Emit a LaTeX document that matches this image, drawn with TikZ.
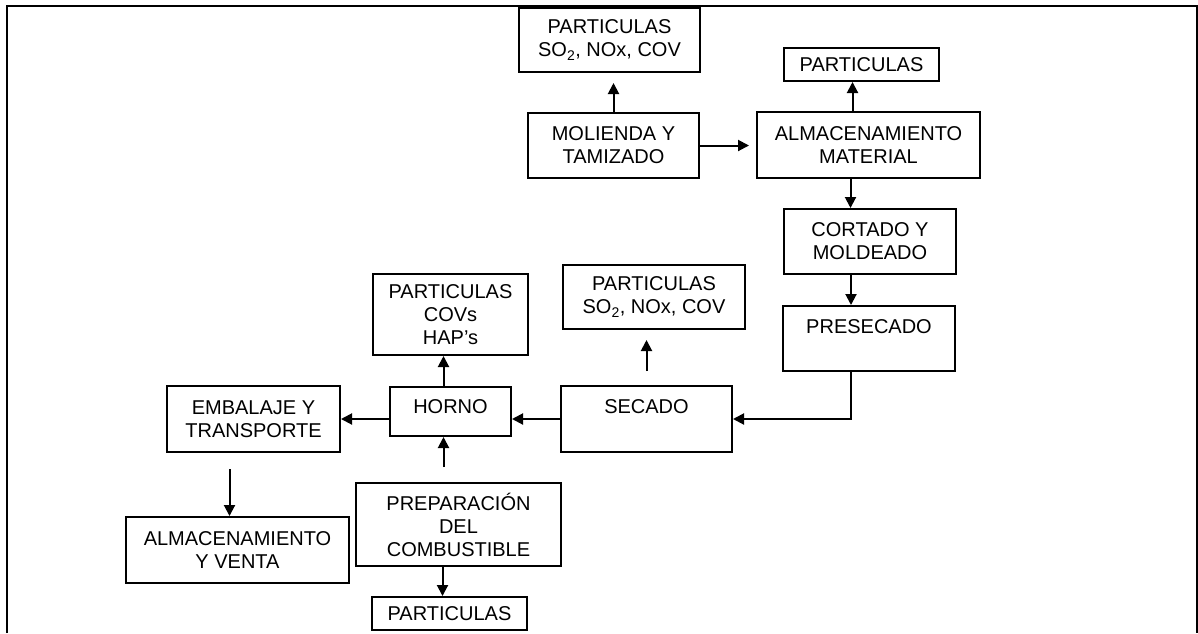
\documentclass[tikz,border=0pt]{standalone}
\usepackage{fontspec}
\setmainfont{Liberation Sans}
\usetikzlibrary{arrows.meta}

\begin{document}
\begin{tikzpicture}[x=1pt,y=-1pt,line width=2pt,>={Triangle[length=11pt,width=11pt]},
    box/.style={draw,rectangle,inner sep=0pt,align=center,font=\fontsize{20}{23}\selectfont},
    topbox/.style={draw,rectangle,inner sep=0pt,font=\fontsize{20}{23}\selectfont,text height=15pt,text depth=#1}]
      \useasboundingbox (0,0) rectangle (1198,633);
      \draw (7,633) -- (7,6) -- (1197,6) -- (1197,633);

      \node[box,minimum width=181pt,minimum height=64pt] (part1) at (609.5,40)    {PARTICULAS\\SO\textsubscript{2}, NOx, COV};
      \node[box,minimum width=171pt,minimum height=65pt] (mol)   at (613.5,145.5) {MOLIENDA Y\\TAMIZADO};
      \node[box,minimum width=155pt,minimum height=33pt] (part2) at (861.5,64.5)  {PARTICULAS};
      \node[box,minimum width=223pt,minimum height=66pt] (alm)   at (868.5,145)   {ALMACENAMIENTO\\MATERIAL};
      \node[box,minimum width=172pt,minimum height=65pt] (cort)  at (870,241.5)   {CORTADO Y\\MOLDEADO};
      \node[topbox=25.7pt,minimum width=172pt,minimum height=65pt] (prese) at (869,338.5) {PRESECADO};
      \node[topbox=26.7pt,minimum width=171pt,minimum height=66pt] (sec)   at (646.5,419) {SECADO};
      \node[box,minimum width=182pt,minimum height=64pt] (part3) at (654,297)     {PARTICULAS\\SO\textsubscript{2}, NOx, COV};
      \node[topbox=11.7pt,minimum width=121pt,minimum height=49pt] (horno) at (450.5,411.5) {HORNO};
      \node[box,minimum width=155pt,minimum height=81pt] (part4) at (450.5,314.5) {PARTICULAS\\COVs\\HAP’s};
      \node[box,minimum width=173pt,minimum height=66pt] (emb)   at (253.5,419)   {EMBALAJE Y\\TRANSPORTE};
      \node[box,minimum width=223pt,minimum height=66pt] (almv)  at (237.5,550)   {ALMACENAMIENTO\\Y VENTA};
      \node[box,minimum width=205pt,minimum height=83pt] (prep)  at (458.5,524.5) {PREPARACIÓN\\DEL\\COMBUSTIBLE};
      \node[box,minimum width=155pt,minimum height=33pt] (part5) at (449.5,613.5) {PARTICULAS};

      \path[->] (mol.north) edge[shorten >=10pt] (mol.north |- part1.south)
                (mol.east) edge[shorten >=7pt] (mol.east -| alm.west)
                ([xshift=-16pt]alm.north) edge ([xshift=-16pt]alm.north |- part2.south)
                ([xshift=-18pt]alm.south) edge ([xshift=-18pt]alm.south |- cort.north)
                ([xshift=-19pt]cort.south) edge ([xshift=-19pt]cort.south |- prese.north)
                (sec.north) edge[shorten <=14pt,shorten >=10pt] (sec.north |- part3.south)
                (sec.west) edge (sec.west -| horno.east)
                ([xshift=-7pt]horno.north) edge ([xshift=-7pt]horno.north |- part4.south)
                (horno.west |- emb.east) edge (emb.east)
                ([xshift=-15pt]prep.north) edge[shorten <=15pt] ([xshift=-15pt]prep.north |- horno.south)
                ([xshift=-24pt]emb.south) edge[shorten <=16pt] ([xshift=-24pt]emb.south |- almv.north)
                ([xshift=-16pt]prep.south) edge ([xshift=-16pt]prep.south |- part5.north);
      \draw[->] ([xshift=-18pt]prese.south) |- (sec.east);
    \end{tikzpicture}
\end{document}
